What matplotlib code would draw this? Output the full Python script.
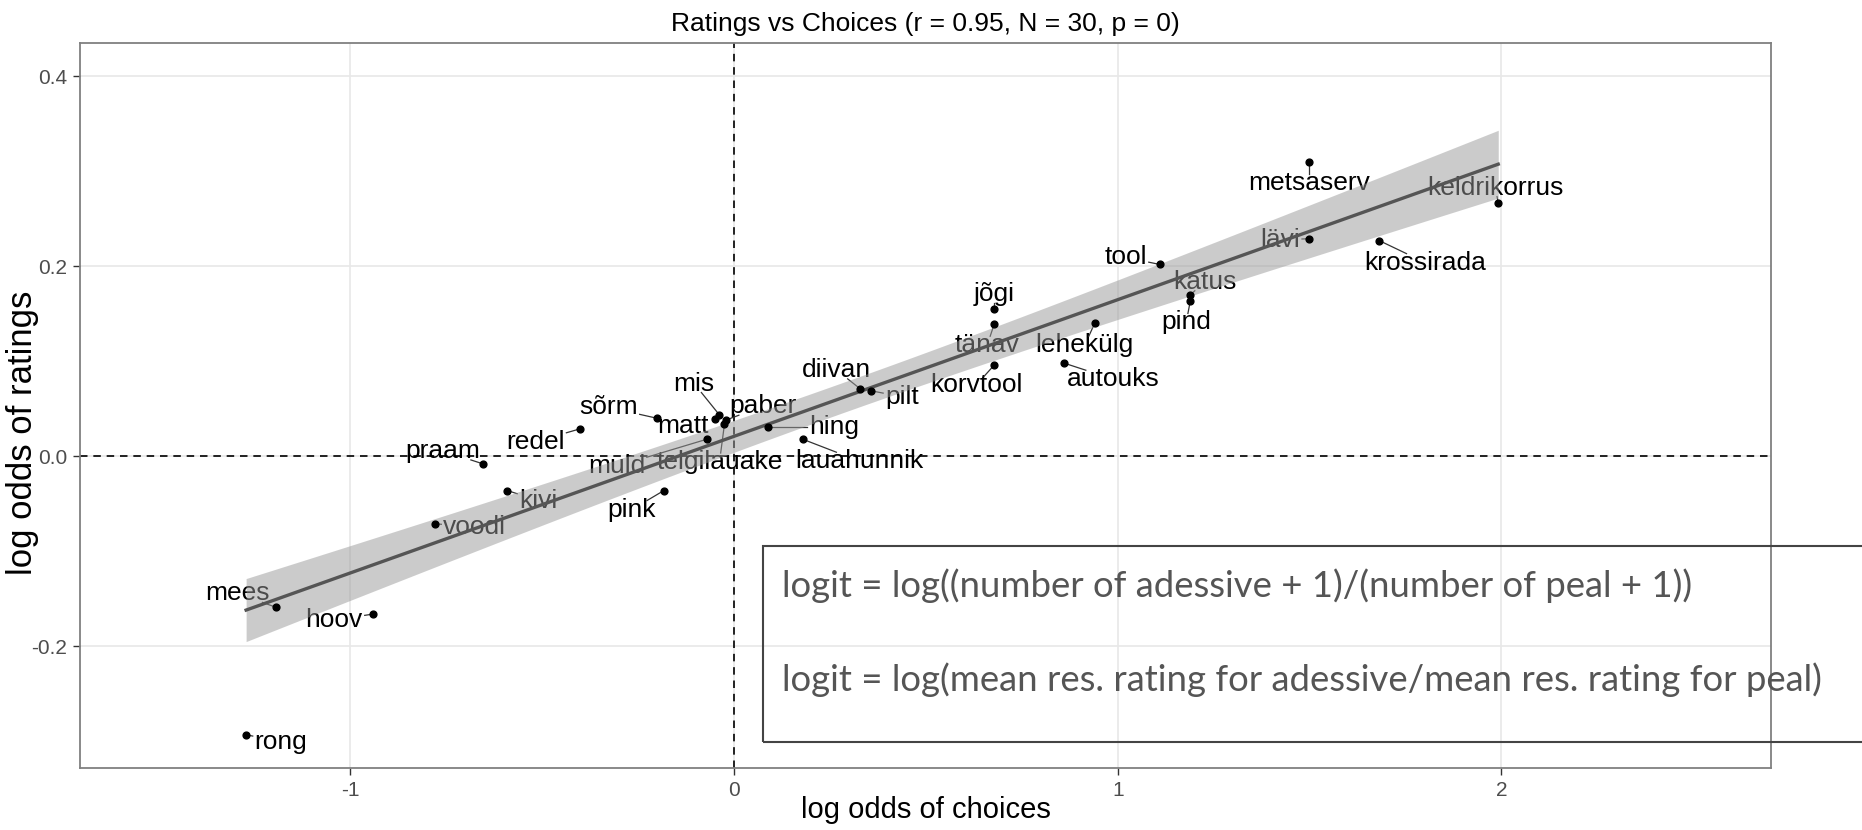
import numpy as np
import matplotlib.pyplot as plt
from matplotlib.patches import Rectangle

plt.rcParams["axes.unicode_minus"] = False

# log odds of choices (x) and of ratings (y) per noun
words = ["metsaserv", "keldrikorrus", "lävi", "krossirada", "tool", "katus", "pind",
         "jõgi", "tänav", "lehekülg", "korvtool", "autouks", "diivan", "pilt", "mis",
         "paber", "matt", "sõrm", "redel", "hing", "lauahunnik", "telgilauake", "muld",
         "praam", "kivi", "voodi", "pink", "mees", "hoov", "rong"]
choices = [1.499, 1.992, 1.499, 1.682, 1.109, 1.189, 1.189,
           0.678, 0.678, 0.940, 0.678, 0.861, 0.329, 0.357, -0.039,
           -0.022, -0.050, -0.200, -0.401, 0.088, 0.179, -0.025, -0.071,
           -0.654, -0.591, -0.780, -0.183, -1.193, -0.941, -1.272]
ratings = [0.310, 0.267, 0.229, 0.227, 0.202, 0.170, 0.163,
           0.155, 0.139, 0.140, 0.096, 0.098, 0.071, 0.069, 0.044,
           0.038, 0.039, 0.040, 0.029, 0.031, 0.018, 0.034, 0.018,
           -0.008, -0.036, -0.071, -0.036, -0.159, -0.166, -0.293]

# label offsets from each point, in pixels (x right, y down)
label_offsets = {
    "metsaserv": (0, 21), "keldrikorrus": (-3, -15), "lävi": (-29, 1),
    "krossirada": (46, 22), "tool": (-34, -7), "katus": (15, -13),
    "pind": (-4, 21), "jõgi": (0, -15), "tänav": (-7, 21),
    "lehekülg": (-10, 22), "korvtool": (-18, 20), "autouks": (49, 16),
    "diivan": (-24, -19), "pilt": (31, 6), "mis": (-25, -31),
    "paber": (37, -14), "matt": (-32, 7), "sõrm": (-49, -11),
    "redel": (-45, 13), "hing": (66, 0), "lauahunnik": (57, 22),
    "telgilauake": (-5, 38), "muld": (-90, 27), "praam": (-40, -13),
    "kivi": (31, 10), "voodi": (40, 3), "pink": (-32, 19),
    "mees": (-39, -14), "hoov": (-39, 6), "rong": (35, 7),
}

x = np.array(choices)
y = np.array(ratings)
n = len(x)
r = np.corrcoef(x, y)[0, 1]

# linear fit with 95% confidence band
slope, icpt = np.polyfit(x, y, 1)
xs = np.linspace(x.min(), x.max(), 100)
fit = icpt + slope * xs
resid = y - (icpt + slope * x)
s = np.sqrt(np.sum(resid ** 2) / (n - 2))
se = s * np.sqrt(1 / n + (xs - x.mean()) ** 2 / np.sum((x - x.mean()) ** 2))
tcrit = 2.048
lo, hi = fit - tcrit * se, fit + tcrit * se

DPI = 100
fig = plt.figure(figsize=(18.62, 8.30), dpi=DPI)
ax = fig.add_axes([80 / 1862, 1 - 768 / 830, (1771 - 80) / 1862, (768 - 43) / 830])
font = "Liberation Sans"

ax.set_xlim(-1.705, 2.703)
ax.set_ylim(-0.328, 0.435)
ax.set_xticks([-1, 0, 1, 2])
ax.set_yticks([-0.2, 0.0, 0.2, 0.4])
ax.set_yticklabels(["-0.2", "0.0", "0.2", "0.4"])
ax.grid(color="#e8e8e8", lw=1.2, zorder=0)
ax.set_axisbelow(True)
for sp in ax.spines.values():
    sp.set_color("#808080")
    sp.set_linewidth(1.3)
ax.tick_params(length=5, width=1, color="#333333", labelcolor="#4d4d4d",
               labelsize=15, pad=4)
for lab in ax.get_xticklabels() + ax.get_yticklabels():
    lab.set_fontfamily(font)

ax.axvline(0, color="black", lw=1.2, ls=(0, (4.5, 3.5)), zorder=2)
ax.axhline(0, color="black", lw=1.2, ls=(0, (4.5, 3.5)), zorder=2)

ax.scatter(x, y, s=24, color="black", zorder=6)

# word labels and their leader segments
fig.canvas.draw()
renderer = fig.canvas.get_renderer()
to_pt = 72 / DPI
for w, xi, yi in zip(words, x, y):
    dx, dy = label_offsets[w]
    t = ax.annotate(w, (xi, yi), xytext=(dx * to_pt, -dy * to_pt),
                    textcoords="offset points", ha="center", va="center",
                    fontsize=19, family=font, color="black", zorder=3)
    bb = t.get_window_extent(renderer)
    px, py = ax.transData.transform((xi, yi))
    cx, cy = (bb.x0 + bb.x1) / 2, (bb.y0 + bb.y1) / 2
    vx, vy = cx - px, cy - py
    # walk from point towards label centre until the box edge
    tx = (bb.width / 2 + 2) / abs(vx) if vx else np.inf
    ty = (bb.height / 2 - 3) / abs(vy) if vy else np.inf
    f = 1 - min(tx, ty, 1)
    ex, ey = px + vx * f, py + vy * f
    if np.hypot(ex - px, ey - py) > 5:
        inv = ax.transData.inverted()
        (x0, y0), (x1, y1) = inv.transform([(px, py), (ex, ey)])
        ax.plot([x0, x1], [y0, y1], color="#333333", lw=0.9, zorder=3)

ax.fill_between(xs, lo, hi, color="#999999", alpha=0.5, lw=0, zorder=4)
ax.plot(xs, fit, color="#555555", lw=2.4, zorder=5)

ax.set_title("Ratings vs Choices (r = %.2f, N = %d, p = 0)" % (r, n),
             fontsize=19, family=font, pad=9)
ax.set_xlabel("log odds of choices", fontsize=21, family=font)
ax.xaxis.set_label_coords(0.5, -0.038)
ax.set_ylabel("log odds of ratings", fontsize=25, family=font)
ax.yaxis.set_label_coords(-0.024, 0.462)

# formula box laid over the plot
fig.patches.append(Rectangle((763 / 1862, 1 - 742 / 830), 1.2, (742 - 546) / 830,
                             transform=fig.transFigure, fill=False,
                             edgecolor="#444444", lw=1.5, zorder=10))
fig.text(782 / 1862, 1 - 586 / 830,
         "logit = log((number of adessive + 1)/(number of peal + 1))",
         family="Lato", fontsize=26.3, color="#555555", va="center")
fig.text(782 / 1862, 1 - 680 / 830,
         "logit = log(mean res. rating for adessive/mean res. rating for peal)",
         family="Lato", fontsize=26.3, color="#555555", va="center")

fig.savefig("out.png", dpi=DPI)
